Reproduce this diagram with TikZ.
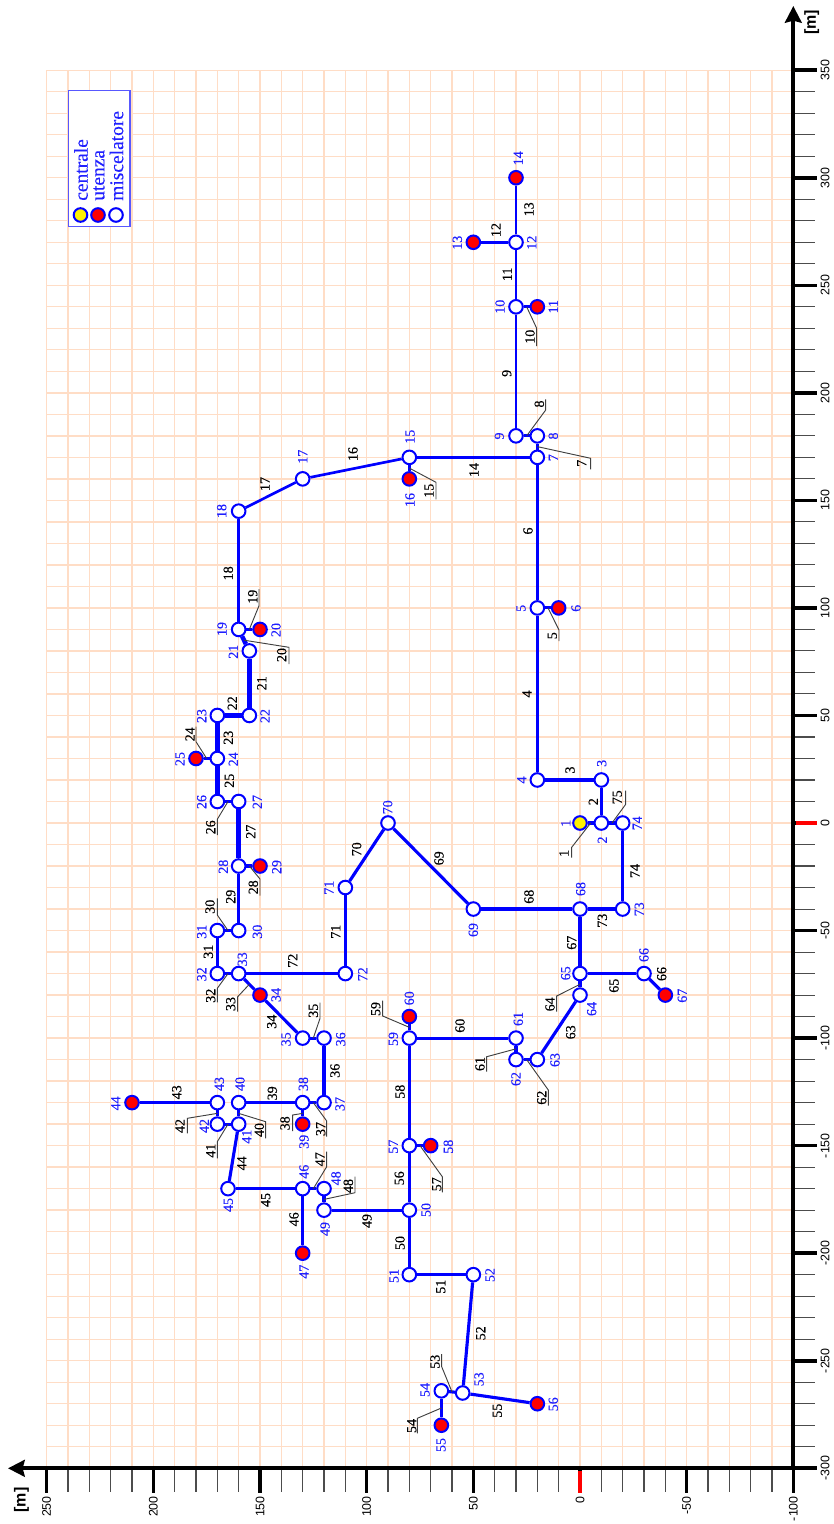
\documentclass[tikz,border=0pt]{standalone}
\usepackage{fontspec}
\setmainfont{Liberation Serif}
\newfontfamily\axfont{Liberation Sans}
\newfontfamily\labfont[FakeBold=0.35]{Liberation Serif}
\newfontfamily\legfont[FakeBold=0.15]{Liberation Serif}
\usetikzlibrary{arrows.meta}
\definecolor{gridc}{HTML}{FFDDC6}
\definecolor{nblue}{HTML}{0000FF}
\definecolor{lblue}{HTML}{2020FF}
\definecolor{boxc}{HTML}{5858FF}
\tikzset{
  gridline/.style={gridc,line width=1.0pt},
  axisline/.style={black,line width=3pt,-{Stealth[length=12.5pt,width=12.5pt,inset=1.5pt]}},
  tickmaj/.style={black,line width=2.7pt},
  tickmin/.style={black!70,line width=.8pt},
  tickzero/.style={red,line width=2.7pt},
  ticktext/.style={rotate=90,inner sep=0pt,font=\axfont\fontsize{9.3}{10}\selectfont,text=black},
  unittext/.style={rotate=90,inner sep=0pt,font=\axfont\bfseries\fontsize{12}{12}\selectfont},
  junct/.style={circle,draw=nblue,line width=1.5pt,fill=white,inner sep=0pt,minimum size=10.2pt},
  user/.style={circle,draw=nblue,line width=1.5pt,fill=red,inner sep=0pt,minimum size=10.2pt},
  plant/.style={circle,draw=nblue,line width=1.5pt,fill=yellow,inner sep=0pt,minimum size=10.2pt},
  pn/.style={nblue,line width=2.0pt},
  pm/.style={nblue,line width=2.35pt},
  pt/.style={nblue,line width=3.4pt},
  nlab/.style={rotate=90,inner sep=0pt,text=lblue,font=\labfont\fontsize{10.5}{10.5}\selectfont},
  elab/.style={rotate=90,inner sep=0pt,text=black,font=\labfont\fontsize{10.5}{10.5}\selectfont},
  leader/.style={black!75,line width=.7pt},
  legendbox/.style={draw=boxc,line width=.9pt,fill=white,inner sep=0pt,minimum width=46.3pt,minimum height=102pt},
  legtext/.style={rotate=90,anchor=west,inner sep=0pt,text=lblue,font=\legfont\fontsize{14.6}{14.6}\selectfont},
}
\newcommand{\nd}[4]{%
  \pgfmathsetmacro{\nx}{580-2.1333*#3}\pgfmathsetmacro{\ny}{823-2.1508*#2}%
  \node[#4] (n#1) at (\nx,\ny) {};}
\newcommand{\nl}[3]{\node[nlab] (nl#1) at (#2,#3) {#1};}
\newcommand{\ed}[6]{%
  \draw[#4] (n#2) -- (n#3);
  \node[elab] (e#1) at (#5,#6) {#1};}
\newcommand{\lk}[9]{%
  \draw[#4] (n#2) -- (n#3) coordinate[midway] (m#1);
  \coordinate (c#1) at (#5,#6);
  \coordinate (t#1) at (#5,#7);
  \draw[leader] (m#1) -- (c#1) -- (t#1);
  \node[elab] (e#1) at (#8,#9) {#1};}
\begin{document}
\begin{tikzpicture}[x=.75pt,y=-.75pt]
\useasboundingbox (0,0) rectangle (834,1524);
% grid
\foreach \k in {-30,...,35}{
  \pgfmathsetmacro{\yy}{823-21.508*\k}
  \draw[gridline] (46.7,\yy) -- (793.3,\yy);
}
\foreach \k in {-10,...,25}{
  \pgfmathsetmacro{\xx}{580-21.333*\k}
  \draw[gridline] (\xx,70.3) -- (\xx,1468.3);
}
% ticks on the upright axis
\foreach \k in {-30,...,35}{
  \pgfmathsetmacro{\yy}{823-21.508*\k}
  \draw[tickmin] (793.3,\yy) -- (815,\yy);
}
\foreach \v in {-300,-250,...,350}{
  \pgfmathsetmacro{\yy}{823-2.1508*\v}
  \draw[tickmaj] (793.3,\yy) -- (816.7,\yy);
  \node[ticktext] at (825,\yy) {\v};
}
\draw[tickzero] (795.5,823) -- (816.7,823);
% ticks on the lateral axis
\foreach \k in {-10,...,25}{
  \pgfmathsetmacro{\xx}{580-21.333*\k}
  \draw[tickmin] (\xx,1468.3) -- (\xx,1492);
}
\foreach \v in {-100,-50,...,250}{
  \pgfmathsetmacro{\xx}{580-2.1333*\v}
  \draw[tickmaj] (\xx,1468.3) -- (\xx,1493);
  \node[ticktext,anchor=east] at (\xx,1496) {\v};
}
\draw[tickzero] (580,1470.5) -- (580,1493);
% axes
\coordinate (orig) at (793.3,1468.3);
\coordinate (atop) at (793.3,6);
\coordinate (aleft) at (8,1468.3);
\draw[axisline] (orig) -- (atop);
\draw[axisline] ([xshift=1.5pt]orig) -- (aleft);
\node[unittext] (utop) at (811.7,22.5) {[m]};
\node[unittext] (uleft) at (21.5,1500) {[m]};
% legend
\node[legendbox] (legend) at (99.2,158.7) {};
\node[plant] (lg1) at (80.5,215) {};
\node[user] (lg2) at (98,215) {};
\node[junct] (lg3) at (116,215) {};
\node[legtext] (lt1) at (81,201) {centrale};
\node[legtext] (lt2) at (99,201) {utenza};
\node[legtext] (lt3) at (116.5,201) {miscelatore};
% nodes
\nd{1}{0}{0}{plant}
\nd{2}{0}{-10}{junct}
\nd{3}{20}{-10}{junct}
\nd{4}{20}{20}{junct}
\nd{5}{100}{20}{junct}
\nd{6}{100}{10}{user}
\nd{7}{170}{20}{junct}
\nd{8}{180}{20}{junct}
\nd{9}{180}{30}{junct}
\nd{10}{240}{30}{junct}
\nd{11}{240}{20}{user}
\nd{12}{270}{30}{junct}
\nd{13}{270}{50}{user}
\nd{14}{300}{30}{user}
\nd{15}{170}{80}{junct}
\nd{16}{160}{80}{user}
\nd{17}{160}{130}{junct}
\nd{18}{145}{160}{junct}
\nd{19}{90}{160}{junct}
\nd{20}{90}{150}{user}
\nd{21}{80}{155}{junct}
\nd{22}{50}{155}{junct}
\nd{23}{50}{170}{junct}
\nd{24}{30}{170}{junct}
\nd{25}{30}{180}{user}
\nd{26}{10}{170}{junct}
\nd{27}{10}{160}{junct}
\nd{28}{-20}{160}{junct}
\nd{29}{-20}{150}{user}
\nd{30}{-50}{160}{junct}
\nd{31}{-50}{170}{junct}
\nd{32}{-70}{170}{junct}
\nd{33}{-70}{160}{junct}
\nd{34}{-80}{150}{user}
\nd{35}{-100}{130}{junct}
\nd{36}{-100}{120}{junct}
\nd{37}{-130}{120}{junct}
\nd{38}{-130}{130}{junct}
\nd{39}{-140}{130}{user}
\nd{40}{-130}{160}{junct}
\nd{41}{-140}{160}{junct}
\nd{42}{-140}{170}{junct}
\nd{43}{-130}{170}{junct}
\nd{44}{-130}{210}{user}
\nd{45}{-170}{165}{junct}
\nd{46}{-170}{130}{junct}
\nd{47}{-200}{130}{user}
\nd{48}{-170}{120}{junct}
\nd{49}{-180}{120}{junct}
\nd{50}{-180}{80}{junct}
\nd{51}{-210}{80}{junct}
\nd{52}{-210}{50}{junct}
\nd{53}{-265}{55}{junct}
\nd{54}{-264}{65}{junct}
\nd{55}{-280}{65}{user}
\nd{56}{-270}{20}{user}
\nd{57}{-150}{80}{junct}
\nd{58}{-150}{70}{user}
\nd{59}{-100}{80}{junct}
\nd{60}{-90}{80}{user}
\nd{61}{-100}{30}{junct}
\nd{62}{-110}{30}{junct}
\nd{63}{-110}{20}{junct}
\nd{64}{-80}{0}{junct}
\nd{65}{-70}{0}{junct}
\nd{66}{-70}{-30}{junct}
\nd{67}{-80}{-40}{user}
\nd{68}{-40}{0}{junct}
\nd{69}{-40}{50}{junct}
\nd{70}{0}{90}{junct}
\nd{71}{-30}{110}{junct}
\nd{72}{-70}{110}{junct}
\nd{73}{-40}{-20}{junct}
\nd{74}{0}{-20}{junct}
% node labels
\nl{1}{565.7}{823.3}\nl{2}{602.3}{840}\nl{3}{601.7}{763.3}\nl{4}{521.7}{780}
\nl{5}{521}{608.3}\nl{6}{576}{608.3}\nl{7}{553.3}{457.7}\nl{8}{553.3}{436}
\nl{9}{499.3}{436}\nl{10}{500}{306.7}\nl{11}{553.3}{306.7}\nl{12}{531.7}{242.7}
\nl{13}{457.3}{242.7}\nl{14}{518.3}{158.3}\nl{15}{410}{436.7}\nl{16}{410}{500}
\nl{17}{302.7}{456.7}\nl{18}{221.7}{511}\nl{19}{222}{629}\nl{20}{276}{630}
\nl{21}{233.3}{651.7}\nl{22}{265}{716}\nl{23}{201.7}{716}\nl{24}{233.3}{759.3}
\nl{25}{180}{759}\nl{26}{201.7}{802}\nl{27}{257.3}{802}\nl{28}{223.3}{866.7}
\nl{29}{276.7}{867}\nl{30}{257.3}{931.7}\nl{31}{201.7}{931.7}\nl{32}{201.7}{974.3}
\nl{33}{242.3}{959.3}\nl{34}{276}{995}\nl{35}{286}{1039.3}\nl{36}{340.7}{1039.3}
\nl{37}{340}{1104}\nl{38}{303.3}{1084}\nl{39}{304}{1141.7}\nl{40}{240}{1084}
\nl{41}{246.7}{1136.7}\nl{42}{204.3}{1126}\nl{43}{219.3}{1084}\nl{44}{115.7}{1103.3}
\nl{45}{228.3}{1205}\nl{46}{304}{1171.7}\nl{47}{304}{1271.7}\nl{48}{336}{1178.3}
\nl{49}{325}{1229}\nl{50}{426}{1210}\nl{51}{394}{1276}\nl{52}{490}{1275}
\nl{53}{479}{1379.3}\nl{54}{425}{1390}\nl{55}{441}{1445}\nl{56}{553.3}{1404.3}
\nl{57}{393.3}{1146.7}\nl{58}{448.3}{1146.7}\nl{59}{393.3}{1039}\nl{60}{409.3}{998.3}
\nl{61}{518.3}{1019}\nl{62}{516}{1079}\nl{63}{555}{1060}\nl{64}{591.7}{1009}
\nl{65}{565.7}{973.3}\nl{66}{644}{955}\nl{67}{682.3}{995.7}\nl{68}{580.7}{889}
\nl{69}{473.3}{930}\nl{70}{387.7}{807.3}\nl{71}{329}{887.7}\nl{72}{362.7}{974.3}
\nl{73}{639.3}{909.3}\nl{74}{637.3}{823.3}
% pipes
\lk{1}{1}{2}{pm}{571.7}{847.3}{857.7}{564}{853.3}
\ed{2}{2}{3}{pm}{593.3}{801.7}
\ed{3}{3}{4}{pm}{570}{770}
\ed{4}{4}{5}{pn}{527}{694}
\lk{5}{5}{6}{pm}{559}{630}{641}{552.3}{635.7}
\ed{6}{5}{7}{pn}{528}{531}
\lk{7}{7}{8}{pm}{590.7}{458.3}{469.3}{581.7}{463.3}
\lk{8}{8}{9}{pm}{545.7}{410}{399.3}{539.3}{404}
\ed{9}{9}{10}{pn}{506.7}{373.3}
\lk{10}{10}{11}{pm}{536.7}{328.3}{346}{530}{336.7}
\ed{11}{10}{12}{pn}{507.3}{274.3}
\ed{12}{12}{13}{pm}{496}{230}
\ed{13}{12}{14}{pn}{529}{209.3}
\ed{14}{7}{15}{pn}{474}{470}
\lk{15}{15}{16}{pm}{436}{482.3}{499.3}{429}{490.7}
\ed{16}{15}{17}{pn}{353}{454}
\ed{17}{17}{18}{pn}{265}{484}
\ed{18}{18}{19}{pn}{228.3}{573.3}
\lk{19}{19}{20}{pm}{259}{605.7}{589}{252.7}{596.7}
\lk{20}{19}{21}{pt}{289}{647.3}{664}{281.7}{655}
\ed{21}{21}{22}{pt}{261.7}{683.3}
\ed{22}{22}{23}{pt}{232.3}{703.3}
\ed{23}{23}{24}{pt}{228.3}{737.7}
\lk{24}{24}{25}{pm}{196}{741.7}{726.7}{190}{734.3}
\ed{25}{24}{26}{pt}{229.3}{780.7}
\lk{26}{26}{27}{pm}{217.3}{819.3}{835}{210.7}{827.3}
\ed{27}{27}{28}{pt}{250.7}{831.7}
\lk{28}{28}{29}{pt}{260}{879}{895.7}{253.3}{887.3}
\ed{29}{28}{30}{pm}{230.7}{896.7}
\lk{30}{30}{31}{pm}{217.3}{915}{898.3}{210}{906.7}
\ed{31}{31}{32}{pm}{208.3}{951.7}
\lk{32}{32}{33}{pm}{217.3}{988.3}{1002.3}{210.7}{995.7}
\lk{33}{33}{34}{pm}{237.7}{996.7}{1011.7}{230.7}{1004}
\ed{34}{34}{35}{pm}{271.7}{1021.7}
\lk{35}{35}{36}{pm}{320}{1018.3}{1002.7}{313.3}{1010.7}
\ed{36}{36}{37}{pm}{335}{1070.7}
\lk{37}{37}{38}{pm}{326.7}{1121}{1136.7}{320.7}{1129}
\lk{38}{38}{39}{pm}{292.7}{1115}{1131}{285}{1123.3}
\ed{39}{38}{40}{pm}{272.3}{1093.3}
\lk{40}{40}{41}{pm}{265.7}{1121.7}{1138.3}{259.3}{1130}
\lk{41}{41}{42}{pm}{217.3}{1141.7}{1158.3}{210.7}{1150.7}
\lk{42}{42}{43}{pm}{187.3}{1118.3}{1133.3}{180}{1126}
\ed{43}{43}{44}{pm}{176.7}{1092.3}
\ed{44}{41}{45}{pm}{241.7}{1163.3}
\ed{45}{45}{46}{pm}{265.7}{1200}
\ed{46}{46}{47}{pm}{294}{1219.3}
\lk{47}{46}{48}{pm}{326.7}{1166.7}{1151.7}{320}{1159.3}
\lk{48}{48}{49}{pm}{355}{1192.7}{1176.7}{348.3}{1186}
\ed{49}{49}{50}{pm}{367}{1221}
\ed{50}{50}{51}{pm}{400}{1243}
\ed{51}{51}{52}{pm}{440.7}{1286.7}
\ed{52}{52}{53}{pm}{480.7}{1333.3}
\lk{53}{53}{54}{pm}{441.7}{1366.7}{1354}{435}{1361.7}
\lk{54}{54}{55}{pm}{417.3}{1418.3}{1433.3}{411.7}{1426}
\ed{55}{53}{56}{pm}{497.3}{1410.7}
\ed{56}{50}{57}{pm}{399.3}{1178.3}
\lk{57}{57}{58}{pm}{442.3}{1176.7}{1192.3}{436.7}{1184.3}
\ed{58}{57}{59}{pm}{400}{1091.7}
\lk{59}{59}{60}{pm}{382.7}{1016}{1000.7}{375.7}{1009}
\ed{60}{59}{61}{pm}{460}{1025.7}
\lk{61}{61}{62}{pm}{486.7}{1056.7}{1071.7}{480}{1064}
\lk{62}{62}{63}{pm}{548.3}{1090}{1105.7}{541.7}{1097.7}
\ed{63}{63}{64}{pm}{570.7}{1032.3}
\lk{64}{64}{65}{pm}{556.7}{996}{1011.7}{550}{1004.3}
\ed{65}{65}{66}{pm}{614}{985.7}
\ed{66}{66}{67}{pm}{661.7}{974}
\ed{67}{65}{68}{pm}{571.7}{942.7}
\ed{68}{68}{69}{pm}{529}{896.7}
\ed{69}{69}{70}{pm}{439}{858.3}
\ed{70}{70}{71}{pm}{356.7}{849.3}
\ed{71}{71}{72}{pm}{335.7}{931.7}
\ed{72}{72}{33}{pm}{292.7}{960.7}
\ed{73}{68}{73}{pm}{602.3}{920.7}
\ed{74}{73}{74}{pm}{635}{871}
\lk{75}{74}{2}{pm}{625.7}{804.3}{790.7}{617.3}{797.3}
\end{tikzpicture}
\end{document}
